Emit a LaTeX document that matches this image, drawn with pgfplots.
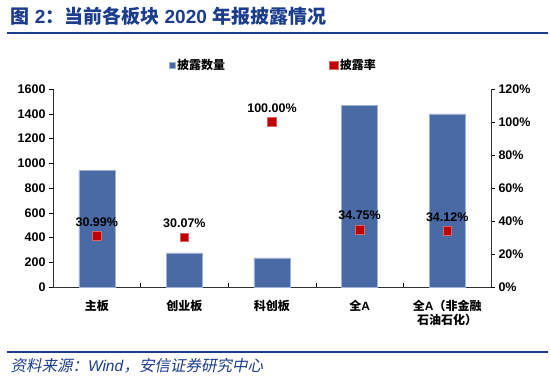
\documentclass[border=0pt]{standalone}
\usepackage{pgfplots}
\pgfplotsset{compat=1.18}
\usepackage{fontspec}
\setmainfont{Liberation Sans}
\newfontfamily\cjk{Noto Sans CJK SC}
\newfontfamily\cjkit{Noto Sans CJK SC}[FakeSlant=0.2]
\definecolor{barblue}{HTML}{4A6AA6}
\definecolor{baredge}{HTML}{9DB2D6}
\definecolor{mred}{HTML}{C00000}
\definecolor{titleblue}{HTML}{1C3C8C}
\begin{document}
\begin{tikzpicture}
\useasboundingbox (0pt,0pt) rectangle (550pt,378pt);
% title
\node[anchor=west,text=titleblue,font=\fontsize{19}{20}\selectfont\bfseries] at (7pt,362pt) {{\cjk 图} 2{\cjk ：当前各板块} 2020 {\cjk 年报披露情况}};
\draw[titleblue,line width=1.2pt] (7pt,345pt) -- (548pt,345pt);
% footer
\draw[titleblue,line width=1.2pt] (7pt,26pt) -- (548pt,26pt);
\node[anchor=west,text=titleblue,font=\fontsize{15.5}{16}\selectfont] at (7pt,12pt) {{\cjkit 资料来源：}\textit{Wind}{\cjkit ，安信证券研究中心}};

\begin{axis}[
  at={(53pt,91pt)}, anchor=south west,
  width=438pt, height=198pt, scale only axis,
  xmin=-0.5, xmax=4.5, ymin=0, ymax=1600,
  axis y line*=left, axis x line*=bottom,
  ytick={0,200,...,1600},
  xtick={0.5,1.5,2.5,3.5}, xticklabels={},
  major tick length=4pt,
  x tick style={draw=black}, xtick align=inside,
  y tick style={draw=black}, ytick align=outside,
  tick label style={font=\fontsize{12.5}{13}\selectfont\bfseries},
  /pgf/number format/assume math mode=true,
  /pgf/number format/1000 sep={},
  axis line style={draw=black!80},
  clip=false,
]
\addplot[ybar, bar width=36pt, fill=barblue, draw=baredge] coordinates {(0,945) (1,275) (2,235) (3,1468) (4,1398)};
\node[font=\fontsize{12}{13}\selectfont\bfseries\cjk, anchor=north] at (axis cs:0,0) [yshift=-10pt] {主板};
\node[font=\fontsize{12}{13}\selectfont\bfseries\cjk, anchor=north] at (axis cs:1,0) [yshift=-10pt] {创业板};
\node[font=\fontsize{12}{13}\selectfont\bfseries\cjk, anchor=north] at (axis cs:2,0) [yshift=-10pt] {科创板};
\node[font=\fontsize{12}{13}\selectfont\bfseries, anchor=north] at (axis cs:3,0) [yshift=-10pt] {{\cjk 全}A};
\node[font=\fontsize{12}{14}\selectfont\bfseries, anchor=north, align=center] at (axis cs:4,0) [yshift=-10pt] {{\cjk 全}A{\cjk （非金融}\\{\cjk 石油石化）}};
\end{axis}

\begin{axis}[
  at={(53pt,91pt)}, anchor=south west,
  width=438pt, height=198pt, scale only axis,
  xmin=-0.5, xmax=4.5, ymin=0, ymax=1.2,
  axis y line*=right, axis x line=none,
  ytick={0,0.2,...,1.2},
  yticklabel={\pgfmathparse{\tick*100}\pgfmathprintnumber[fixed,precision=0]{\pgfmathresult}\%},
  major tick length=4pt,
  y tick style={draw=black}, ytick align=outside,
  tick label style={font=\fontsize{12.5}{13}\selectfont\bfseries},
  /pgf/number format/assume math mode=true,
  axis line style={draw=black!80},
  legend style={at={(0.258,1.12)}, anchor=west, draw=none, fill=none,
    font=\fontsize{12}{13}\selectfont\bfseries\cjk, legend columns=2,
    /tikz/every even column/.append style={column sep=102pt}},
  legend cell align=left,
  clip=false,
]
\addlegendimage{only marks, mark=square*, mark size=3pt, mark options={fill=barblue, draw=baredge}}
\addlegendentry{披露数量}
\addplot[only marks, mark=square*, mark size=4.3pt, mark options={fill=mred, draw=mred!60!white, line width=0.4pt},
  point meta=explicit symbolic,
  nodes near coords, nodes near coords style={font=\fontsize{12.5}{13}\selectfont\bfseries, anchor=south, yshift=6pt}]
  coordinates {(0,0.3099)[30.99\%] (1,0.3007)[30.07\%] (2,1.0)[100.00\%] (3,0.3475)[34.75\%] (4,0.3412)[34.12\%]};
\addlegendentry{披露率}
\end{axis}
\end{tikzpicture}
\end{document}
